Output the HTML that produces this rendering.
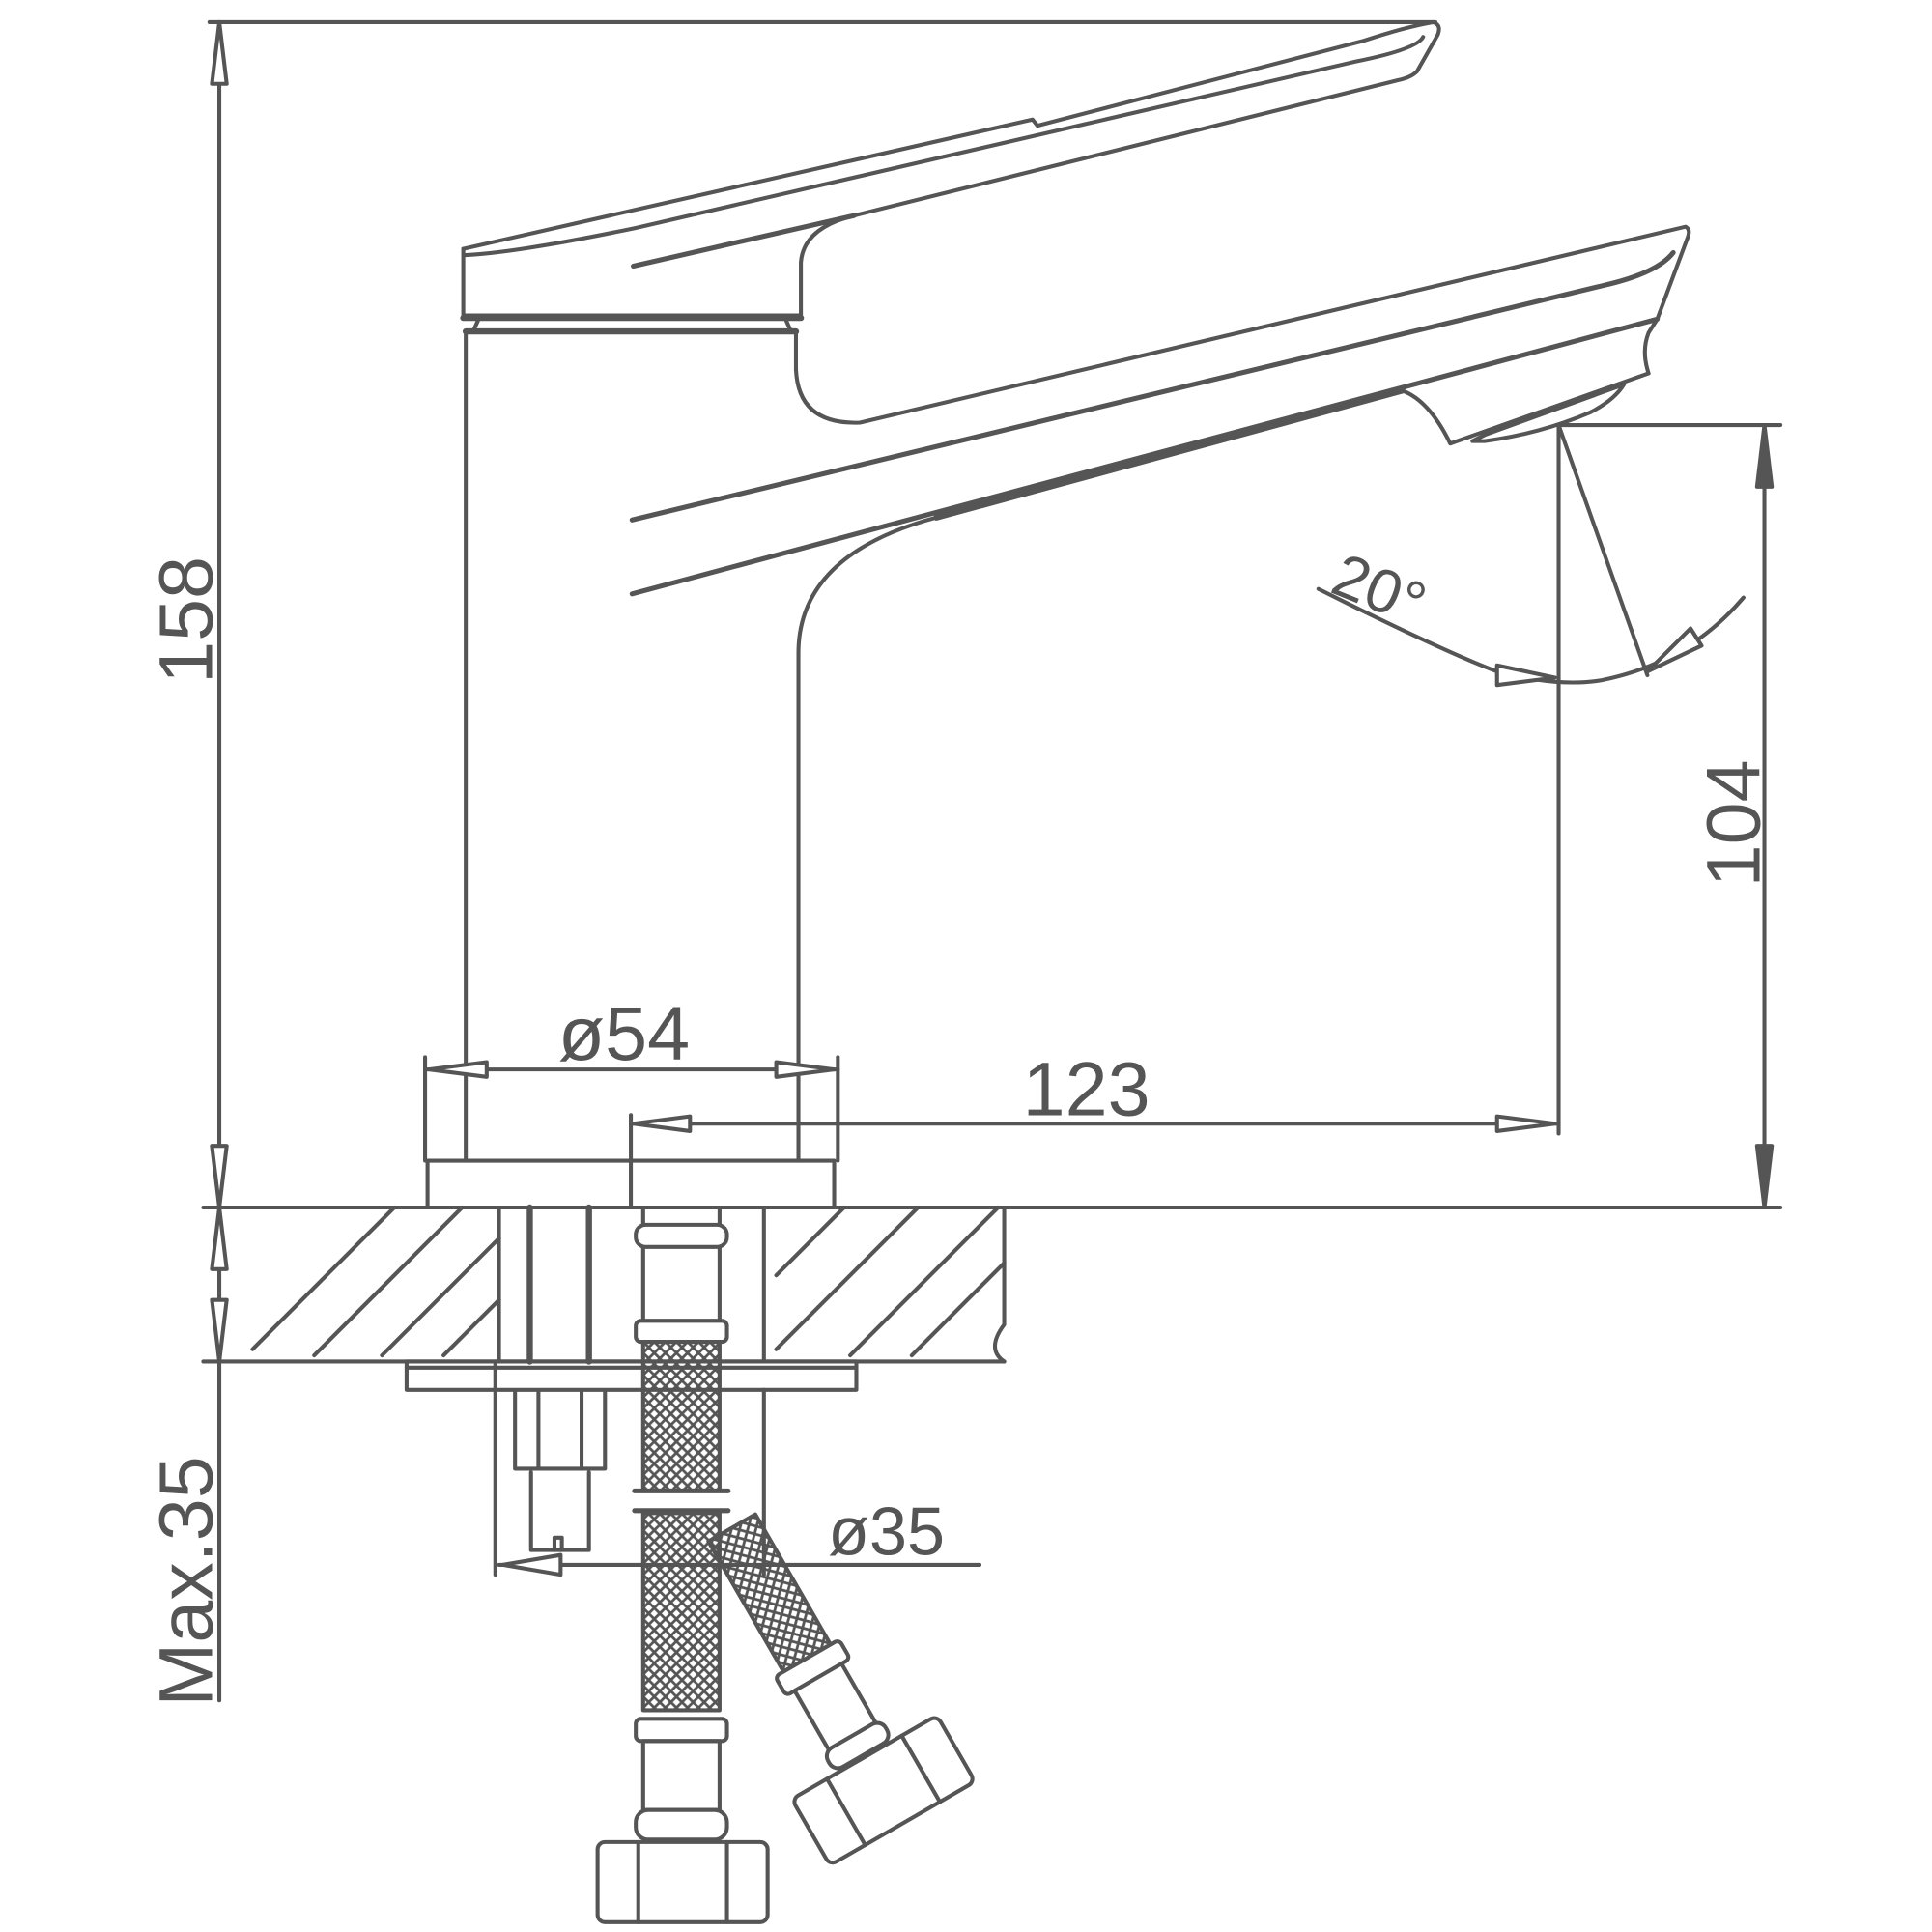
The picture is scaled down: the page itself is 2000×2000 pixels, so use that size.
<!DOCTYPE html>
<html><head><style>html,body{margin:0;padding:0;background:#fff}svg{display:block}</style></head><body>
<svg width="2000" height="2000" viewBox="0 0 1568 1568" xmlns="http://www.w3.org/2000/svg">
<defs>
<pattern id="mesh" width="9" height="9" patternUnits="userSpaceOnUse"><path d="M0,0L9,9M9,0L0,9" stroke="#555" stroke-width="2.2"/></pattern>
</defs>
<g fill="none" stroke="#555" stroke-width="3.2" stroke-linejoin="round" stroke-linecap="round">
<line x1="170" y1="18" x2="1165" y2="18"/>
<line x1="178" y1="18" x2="178" y2="1105"/>
<path d="M172,68L178,18L184,68Z" fill="#fff"/>
<path d="M172,930L178,980L184,930Z" fill="#fff"/>
<path d="M376,202 L838,97 L842,102 L1107,33 Q1140,22 1163,18 Q1170,20 1167,28 L1150,58 Q1145,63 1135,65 L693,175"/>
<path d="M378,207 Q420,205 516,185 L1100,50 Q1150,40 1155,30"/>
<path d="M376,202 L376,256 L650,256 L650,213 Q652,185 693,175"/>
<path d="M514,216 L693,175" stroke-width="4"/>
<line x1="376" y1="258" x2="650" y2="258" stroke-width="5"/>
<path d="M388,260 L384,269 M638,260 L642,269"/>
<line x1="378" y1="269" x2="646" y2="269" stroke-width="5"/>
<line x1="378" y1="269" x2="378" y2="942"/>
<path d="M646,269 L646,300 Q648,345 698,343 L1368,184 Q1372,186 1370,192 L1345,259 L1338,270 Q1332,285 1338,303 L1177,360 Q1160,325 1138,317 L760,420 Q648,450 648,530 L648,942"/>
<path d="M513,422 L1300,232 Q1345,222 1358,205" stroke-width="4"/>
<path d="M513,482 L1345,259" stroke-width="4"/>
<path d="M1138,317 L760,420" stroke-width="5"/>
<path d="M1195,358 L1205,353 L1318,312 Q1310,325 1290,335 Q1250,352 1205,358 Z"/>
<rect x="347" y="942" width="330" height="38"/>
<line x1="512" y1="942" x2="512" y2="980"/>
<line x1="165" y1="980" x2="1445" y2="980"/>
<line x1="165" y1="1105" x2="815" y2="1105"/>
<path d="M815,980 L815,1075 Q800,1095 815,1105"/>
<path d="M205,1095L320,980M255,1100L375,980M310,1100L405,1005M360,1100L405,1055M630,1035L685,980M630,1095L745,980M690,1100L810,980M740,1100L815,1025"/>
<line x1="405" y1="980" x2="405" y2="1105"/><line x1="620" y1="980" x2="620" y2="1105"/>
<line x1="430" y1="980" x2="430" y2="1105" stroke-width="5"/><line x1="478" y1="980" x2="478" y2="1105" stroke-width="5"/>
<rect x="330" y="1105" width="365" height="23"/>
<line x1="330" y1="1110" x2="695" y2="1110"/>
<path d="M418,1130 L418,1192 L491,1192 L491,1130"/>
<line x1="437" y1="1130" x2="437" y2="1192"/><line x1="472" y1="1130" x2="472" y2="1192"/>
<path d="M431,1195 L431,1258 L478,1258 L478,1195"/>
<path d="M450,1258 L450,1248 L456,1248 L456,1258"/>
<rect x="522" y="980" width="62" height="92"/>
<rect x="516" y="994" width="74" height="18" rx="8" fill="#fff"/>
<rect x="516" y="1072" width="74" height="17" rx="4" fill="#fff"/>
<rect x="522" y="1089" width="62" height="121" fill="url(#mesh)"/>
<line x1="515" y1="1210" x2="591" y2="1210" stroke-width="4"/>
<line x1="515" y1="1226" x2="591" y2="1226" stroke-width="4"/>
<rect x="522" y="1228" width="62" height="160" fill="url(#mesh)"/>
<rect x="516" y="1395" width="74" height="18" rx="4" fill="#fff"/>
<rect x="522" y="1413" width="62" height="56"/>
<rect x="516" y="1469" width="74" height="24" rx="10" fill="#fff"/>
<rect x="485" y="1495" width="138" height="65" rx="6"/>
<line x1="518" y1="1495" x2="518" y2="1560"/><line x1="590" y1="1495" x2="590" y2="1560"/>
<g transform="translate(594,1240) rotate(-30)">
<rect x="-22" y="0" width="44" height="122" fill="url(#mesh)"/>
<rect x="-30" y="122" width="60" height="18" rx="4" fill="#fff"/>
<rect x="-22" y="140" width="44" height="55" fill="#fff"/>
<rect x="-27" y="195" width="54" height="18" rx="8" fill="#fff"/>
<rect x="-68" y="215" width="136" height="62" rx="6" fill="#fff"/>
<line x1="-35" y1="215" x2="-35" y2="277"/><line x1="35" y1="215" x2="35" y2="277"/>
</g>
<line x1="345" y1="858" x2="345" y2="942"/><line x1="680" y1="858" x2="680" y2="942"/>
<line x1="345" y1="868" x2="680" y2="868"/>
<path d="M395,862L348,868L395,874Z" fill="#fff"/><path d="M630,862L677,868L630,874Z" fill="#fff"/>
<line x1="512" y1="905" x2="512" y2="942"/>
<line x1="512" y1="912" x2="1265" y2="912"/>
<path d="M560,906L514,912L560,918Z" fill="#fff"/><path d="M1215,906L1262,912L1215,918Z" fill="#fff"/>
<line x1="1265" y1="345" x2="1265" y2="920"/>
<line x1="1265" y1="345" x2="1445" y2="345"/>
<line x1="1432" y1="345" x2="1432" y2="980"/>
<path d="M1426,395L1432,345L1438,395Z" fill="#555"/><path d="M1426,930L1432,980L1438,930Z" fill="#555"/>
<line x1="1265" y1="345" x2="1337" y2="548"/>
<path d="M1070,478 Q1170,528 1215,545 Q1265,558 1300,552 Q1370,538 1415,485"/>
<path d="M1215,540L1262,550L1215,556Z" fill="#fff"/><path d="M1372,510L1337,545L1381,524Z" fill="#fff"/>
<line x1="402" y1="1105" x2="402" y2="1278"/><line x1="620" y1="1128" x2="620" y2="1278"/>
<line x1="405" y1="1270" x2="795" y2="1270"/>
<path d="M455,1262L408,1270L455,1278Z" fill="#fff"/>
<line x1="178" y1="1105" x2="178" y2="1380"/>
<path d="M172,1030L178,980L184,1030Z" fill="#fff"/><path d="M172,1055L178,1105L184,1055Z" fill="#fff"/>
</g>
<g fill="#555" font-family="Liberation Sans, sans-serif" font-size="62">
<text x="453" y="860">ø54</text>
<text x="830" y="905">123</text>
<text x="672" y="1262" font-size="55">ø35</text>
<text transform="translate(172,555) rotate(-90)">158</text>
<text transform="translate(1428,720) rotate(-90)">104</text>
<text transform="translate(172,1385) rotate(-90)">Max.35</text>
<text transform="translate(1078,480) rotate(22)" font-size="50">20°</text>
</g>
</svg>
</body></html>
